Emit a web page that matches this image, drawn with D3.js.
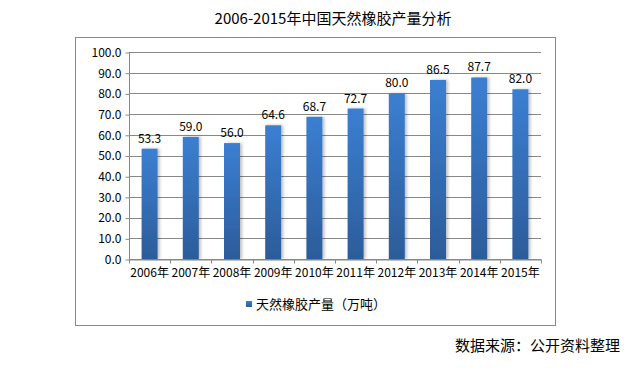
<!DOCTYPE html>
<html><head><meta charset="utf-8">
<script src="https://cdn.jsdelivr.net/npm/d3@7"></script>
<style>body{margin:0;background:#fff;}svg{display:block;}</style>
</head><body>
<script>
const categories = ["2006年","2007年","2008年","2009年","2010年","2011年","2012年","2013年","2014年","2015年"];
const values = [53.3,59.0,56.0,64.6,68.7,72.7,80.0,86.5,87.7,82.0];
const yTicks = [0,10,20,30,40,50,60,70,80,90,100];
const seriesName = "天然橡胶产量（万吨）";
const title = "2006-2015年中国天然橡胶产量分析";
const source = "数据来源：公开资料整理";

const W = 632, H = 381;
const svg = d3.select("body").append("svg").attr("width", W).attr("height", H);
const font = "'Noto Sans CJK SC', 'DejaVu Sans', sans-serif";

const defs = svg.append("defs");
const grad = defs.append("linearGradient").attr("id","bg").attr("x1",0).attr("y1",0).attr("x2",0).attr("y2",1);
grad.append("stop").attr("offset","0%").attr("stop-color","#3b7fd2");
grad.append("stop").attr("offset","100%").attr("stop-color","#2c5c9a");
const flt = defs.append("filter").attr("id","sh").attr("x","-50%").attr("y","-10%").attr("width","200%").attr("height","120%");
flt.append("feDropShadow").attr("dx",2).attr("dy",0).attr("stdDeviation",1.5).attr("flood-color","#000").attr("flood-opacity",0.25);

svg.append("text").attr("x",333).attr("y",24).attr("text-anchor","middle")
  .attr("font-family",font).attr("font-size",15).attr("fill","#000").text(title);

svg.append("rect").attr("x",75.5).attr("y",37.5).attr("width",480).attr("height",288)
  .attr("fill","#fff").attr("stroke","#888").attr("stroke-width",1);

const xb = d3.scaleBand().domain(categories).range([129,541]);
const y = d3.scaleLinear().domain([0,100]).range([259,52]);

const g = svg.append("g");
g.selectAll(".grid").data(yTicks).enter().append("line")
  .attr("x1",129).attr("x2",541).attr("y1",d=>Math.round(y(d))+0.5).attr("y2",d=>Math.round(y(d))+0.5)
  .attr("stroke","#888").attr("stroke-width",1);

g.selectAll(".bar").data(values).enter().append("rect")
  .attr("x",(d,i)=>xb(categories[i])+xb.bandwidth()/2-8)
  .attr("width",16)
  .attr("y",d=>y(d)).attr("height",d=>y(0)-y(d))
  .attr("fill","url(#bg)").attr("filter","url(#sh)");

g.selectAll(".lbl").data(values).enter().append("text")
  .attr("x",(d,i)=>xb(categories[i])+xb.bandwidth()/2)
  .attr("y",d=>y(d)-6).attr("text-anchor","middle")
  .attr("font-family",font).attr("font-size",12).attr("fill","#000")
  .text(d=>d.toFixed(1));

// y axis
const ya = svg.append("g").attr("transform","translate(129.5,0.5)")
  .call(d3.axisLeft(y).tickValues(yTicks).tickFormat(d=>d.toFixed(1)).tickSize(4).tickPadding(4));
ya.select(".domain").attr("stroke","#888").attr("d","M0,"+Math.round(y(100))+"V"+Math.round(y(0)));
ya.selectAll(".tick line").attr("stroke","#888");
ya.selectAll("text").attr("font-family",font).attr("font-size",12).attr("fill","#000");

// x axis
const xa = svg.append("g").attr("transform","translate(0,"+(Math.round(y(0))+0.5)+")")
  .call(d3.axisBottom(xb).tickSize(0).tickPadding(9));
xa.select(".domain").attr("stroke","#888");
xa.selectAll("text").attr("font-family",font).attr("font-size",12).attr("fill","#000");
const edges = categories.map(c=>xb(c)).concat([xb(categories[categories.length-1])+xb.bandwidth()]);
xa.selectAll(".edge").data(edges).enter().append("line")
  .attr("x1",d=>Math.round(d)+0.5).attr("x2",d=>Math.round(d)+0.5).attr("y1",0).attr("y2",4).attr("stroke","#888");

// legend
svg.append("rect").attr("x",246).attr("y",301).attr("width",6).attr("height",6).attr("fill","url(#bg)");
svg.append("text").attr("x",256).attr("y",309).attr("font-family",font).attr("font-size",13).attr("fill","#000").text(seriesName);

svg.append("text").attr("x",620).attr("y",351).attr("text-anchor","end")
  .attr("font-family",font).attr("font-size",15).attr("fill","#000").text(source);
</script>
</body></html>
